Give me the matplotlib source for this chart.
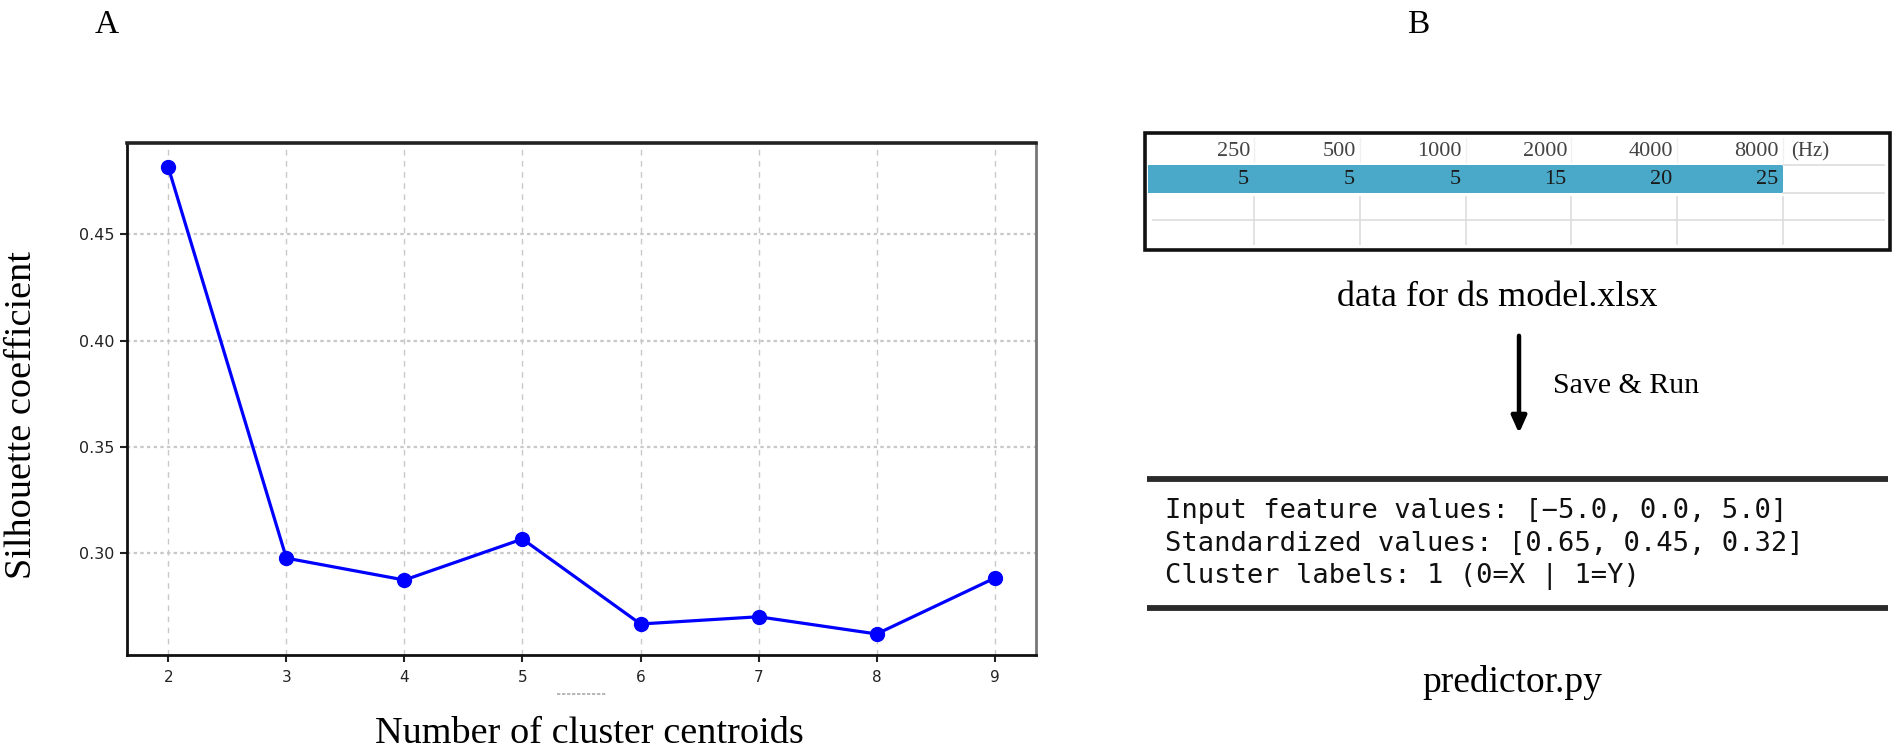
import matplotlib
matplotlib.use("Agg")
import matplotlib.pyplot as plt
from matplotlib.patches import Rectangle

# ---------------- data ----------------
n_clusters = [2, 3, 4, 5, 6, 7, 8, 9]
silhouette = [0.4815, 0.2976, 0.2873, 0.3066, 0.2666, 0.2700, 0.2619, 0.2882]
y_ticks = [0.30, 0.35, 0.40, 0.45]
y_tick_labels = ["0.30", "0.35", "0.40", "0.45"]

freq_headers = ["250", "500", "1000", "2000", "4000", "8000"]
hearing_values = ["5", "5", "5", "15", "20", "25"]
unit_label = "(Hz)"
code_lines = [
    "Input feature values: [\u22125.0, 0.0, 5.0]",
    "Standardized values: [0.65, 0.45, 0.32]",
    "Cluster labels: 1 (0=X | 1=Y)",
]
file_in = "data for ds model.xlsx"
file_out = "predictor.py"
action = "Save & Run"
x_label = "Number of cluster centroids"
y_label = "Silhouette coefficient"

W, H = 1901, 755
fig = plt.figure(figsize=(W / 100, H / 100), dpi=100)
fig.patch.set_facecolor("white")
serif = ["Liberation Serif", "DejaVu Serif"]

def px_axes(l, t, r, b):
    return fig.add_axes([l / W, 1 - b / H, (r - l) / W, (b - t) / H])

# ---------------- panel A ----------------
ax = px_axes(127, 143, 1036, 655)
ax.plot(n_clusters, silhouette, color="#0000ff", lw=2.3, marker="o",
        markersize=10, zorder=3)
ax.set_xlim(1.65, 9.35)
ax.set_ylim(0.252, 0.493)
ax.set_xticks(n_clusters)
ax.set_xticklabels([str(v) for v in n_clusters])
ax.set_yticks(y_ticks)
ax.set_yticklabels(y_tick_labels)
ax.tick_params(axis="y", labelsize=11.5, length=5, width=1.5, pad=4,
               colors="#222222")
ax.tick_params(axis="x", labelsize=11, length=5, width=1.5, pad=6,
               colors="#222222")
ax.grid(axis="x", color="#c8c8c8", linestyle=(0, (4, 4)), lw=1.0)
ax.grid(axis="y", color="#c8c8c8", linestyle=(0, (1.5, 1.5)), lw=1.6)
for side in ["left", "bottom"]:
    ax.spines[side].set_linewidth(2.0)
    ax.spines[side].set_color("#111111")
ax.spines["top"].set_linewidth(2.6)
ax.spines["top"].set_color("#222222")
ax.spines["right"].set_linewidth(2.0)
ax.spines["right"].set_color("#777777")

# ---------------- overlay for panel B and letters ----------------
ov = fig.add_axes([0, 0, 1, 1])
ov.set_xlim(0, W)
ov.set_ylim(H, 0)
ov.axis("off")

ov.text(589, 734, x_label, fontsize=27.5, family=serif, ha="center",
        va="center")
ov.text(22, 415, y_label, fontsize=27.5, family=serif, ha="center",
        va="center", rotation=90)

ov.text(107, 25, "A", fontsize=24, family=serif, ha="center", va="center")
ov.text(1418, 25, "B", fontsize=24, family=serif, ha="center", va="center")

# small artifact under x axis
ov.plot([557, 607], [694, 694], color="#aaaaaa", lw=1.2, ls=(0, (2, 1)))

# table box
box_l, box_t, box_r, box_b = 1145, 133, 1890, 250
first_edge, col_w = 1254, 105.8
n_col = len(freq_headers)
band_r = first_edge + (n_col - 1) * col_w

# blue band (data row)
ov.add_patch(Rectangle((box_l + 3, 165), band_r - box_l - 3, 28,
                       facecolor="#4AA9C8", edgecolor="none", zorder=1))
# light grid lines
ov.plot([band_r, box_r - 6], [165, 165], color="#dddddd", lw=1.2)
ov.plot([band_r, box_r - 6], [193, 193], color="#dddddd", lw=1.2)
ov.plot([box_l + 8, box_r - 6], [220, 220], color="#dddddd", lw=1.2)
for i in range(n_col):
    xe = first_edge + i * col_w
    ov.plot([xe, xe], [197, 244], color="#dddddd", lw=1.2)
    ov.plot([xe, xe], [138, 162], color="#f0f0f0", lw=1.0)
    ov.text(xe - 4, 152, freq_headers[i], fontsize=16, family=serif,
            ha="right", va="center", color="#444444")
    ov.text(xe - 5, 180, hearing_values[i], fontsize=16, family=serif,
            ha="right", va="center", color="#1a1a1a", zorder=2)
ov.text(band_r + 8, 152, unit_label, fontsize=15, family=serif,
        ha="left", va="center", color="#444444")
ov.add_patch(Rectangle((box_l, box_t), box_r - box_l, box_b - box_t,
                       facecolor="none", edgecolor="#111111", lw=2.6, zorder=3))

ov.text(1497, 297, file_in, fontsize=26, family=serif, ha="center",
        va="center")

# arrow
ov.annotate("", xy=(1519, 436), xytext=(1519, 333),
            arrowprops=dict(arrowstyle="-|>,head_length=1.0,head_width=0.45",
                            lw=3.2, color="black"))
ov.text(1553, 386, action, fontsize=21.5, family=serif, ha="left", va="center")

# code block
ov.plot([1147, 1888], [479, 479], color="#2a2a2a", lw=4.2, solid_capstyle="butt")
ov.plot([1147, 1888], [608, 608], color="#2a2a2a", lw=4.2, solid_capstyle="butt")
for i, line in enumerate(code_lines):
    ov.text(1165, 511 + i * 32.5, line, fontsize=19.5,
            family=["DejaVu Sans Mono"], ha="left", va="center",
            color="#111111")

ov.text(1512, 683, file_out, fontsize=27, family=serif, ha="center",
        va="center")

fig.savefig("out.png", dpi=100, facecolor="white")
